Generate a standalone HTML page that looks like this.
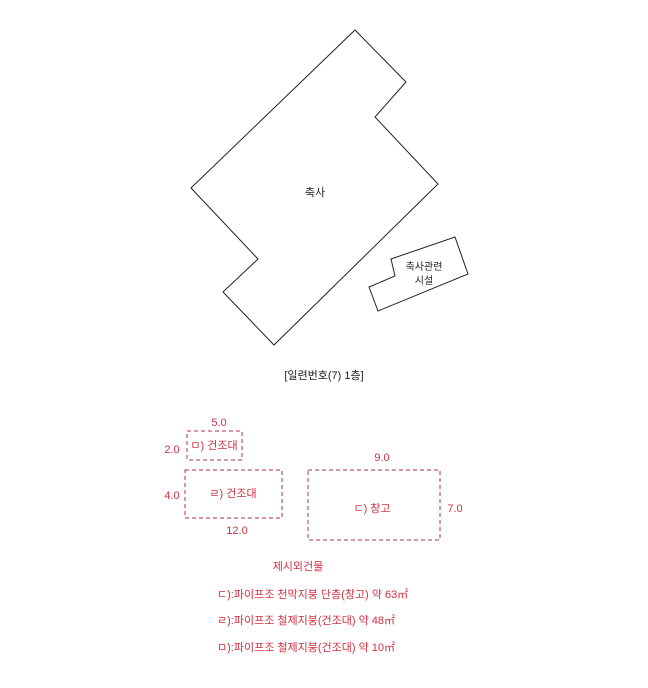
<!DOCTYPE html>
<html><head><meta charset="utf-8"><style>
body{margin:0;background:#fff;width:648px;height:683px;overflow:hidden}
svg text{font-family:"Liberation Sans","Noto Sans CJK KR",sans-serif}
</style></head><body>
<svg width="648" height="683" viewBox="0 0 648 683">
<polygon points="355,30 406,82 375,117 438,184 274,345 223,292 258,259 191,188" fill="none" stroke="#222" stroke-width="1"/>
<text x="315" y="196" font-size="11" fill="#222" text-anchor="middle">축사</text>
<polygon points="391,259 455,237 468,274 378,311 369,287 395,276" fill="none" stroke="#222" stroke-width="1"/>
<text x="424" y="270" font-size="10" fill="#222" text-anchor="middle">축사관련</text>
<text x="424" y="284" font-size="10" fill="#222" text-anchor="middle">시설</text>
<text x="324" y="379" font-size="11" fill="#222" text-anchor="middle">[일련번호(7)  1층]</text>
<g fill="none" stroke="#b03050" stroke-width="1" stroke-dasharray="4,3">
<rect x="187" y="431" width="55" height="29"/>
<rect x="185" y="470" width="97" height="48"/>
<rect x="308" y="470" width="132" height="70"/>
</g>
<g fill="#d03040" font-size="11" text-anchor="middle">
<text x="219" y="426">5.0</text>
<text x="172" y="453">2.0</text>
<text x="214" y="449">ㅁ) 건조대</text>
<text x="172" y="499">4.0</text>
<text x="233" y="497">ㄹ) 건조대</text>
<text x="237" y="534">12.0</text>
<text x="382" y="461">9.0</text>
<text x="372" y="512">ㄷ) 창고</text>
<text x="455" y="512">7.0</text>
<text x="298" y="570">제시외건물</text>
<text x="217" y="598" text-anchor="start">ㄷ):파이프조 천막지붕 단층(창고) 약 63㎡</text>
<text x="217" y="624" text-anchor="start">ㄹ):파이프조 철제지붕(건조대) 약 48㎡</text>
<text x="217" y="651" text-anchor="start">ㅁ):파이프조 철제지붕(건조대) 약 10㎡</text>
</g>
</svg>
</body></html>
